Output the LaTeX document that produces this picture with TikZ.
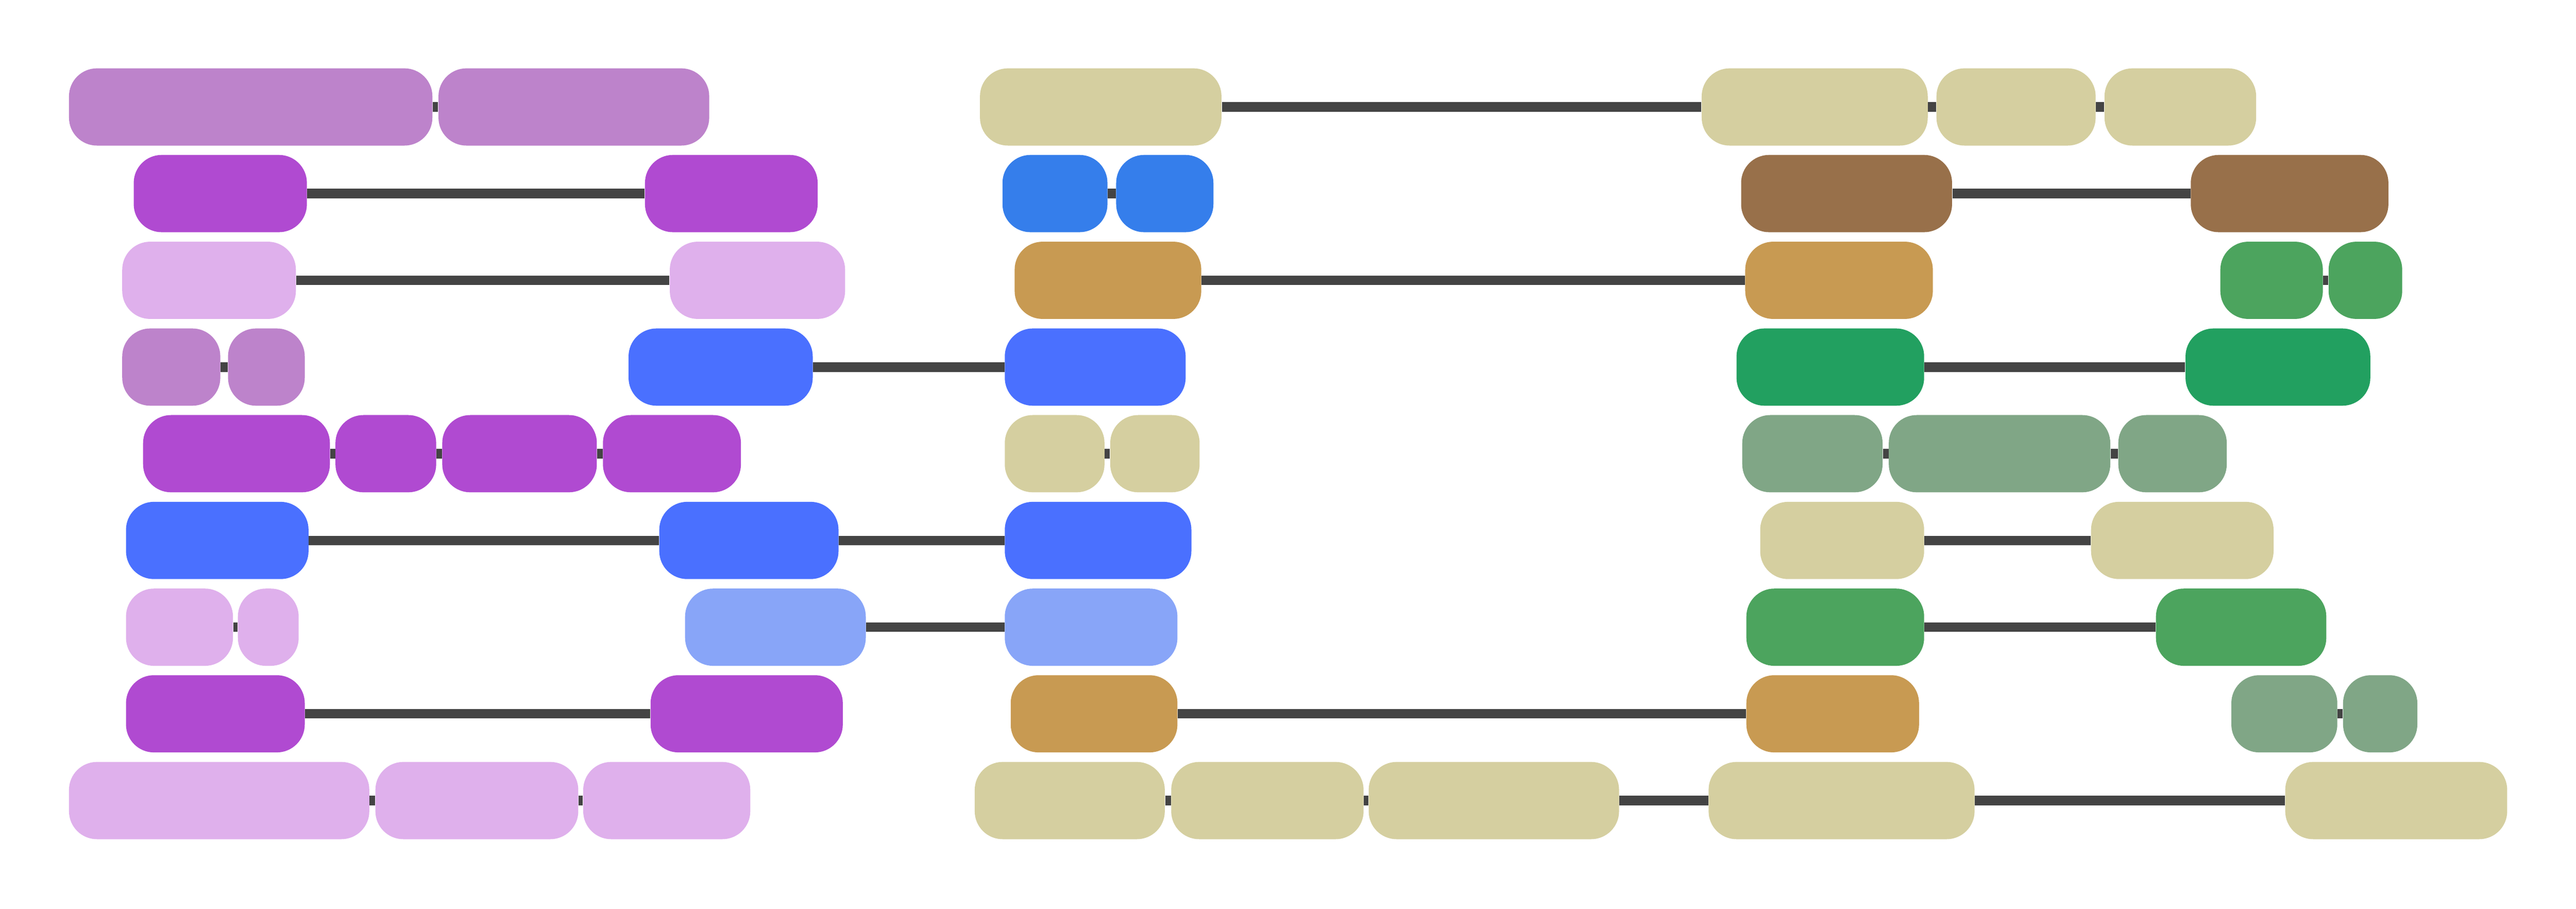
\documentclass[tikz,border=0pt]{standalone}
\usepackage{tikz}

\definecolor{lilac}{HTML}{BD83CB}
\definecolor{violet}{HTML}{B04AD1}
\definecolor{pinklilac}{HTML}{DFB0EC}
\definecolor{khaki}{HTML}{D5CFA0}
\definecolor{skyblue}{HTML}{357EEB}
\definecolor{brown}{HTML}{98704A}
\definecolor{ochre}{HTML}{C89A52}
\definecolor{leaf}{HTML}{4CA45E}
\definecolor{royal}{HTML}{4A70FF}
\definecolor{jade}{HTML}{22A060}
\definecolor{sage}{HTML}{80A686}
\definecolor{paleblue}{HTML}{88A5F8}
\definecolor{linkgray}{HTML}{444444}

\begin{document}
\begin{tikzpicture}
  [x=1pt,y=-1pt,
   every node/.style={rounded corners=17pt,inner sep=0pt,minimum height=47pt},
   link/.style={line width=5.8pt,linkgray}]
  \useasboundingbox (0,0) rectangle (1568,553);

  \node[fill=lilac,minimum width=221.2pt] (r1a) at (152.6,65.1) {};
  \node[fill=lilac,minimum width=164.8pt] (r1b) at (349.3,65.1) {};
  \node[fill=khaki,minimum width=147pt] (r1c) at (670,65.1) {};
  \node[fill=khaki,minimum width=137.6pt] (r1d) at (1104.6,65.1) {};
  \node[fill=khaki,minimum width=96.9pt] (r1e) at (1227.15,65.1) {};
  \node[fill=khaki,minimum width=92.3pt] (r1f) at (1327.15,65.1) {};

  \node[fill=violet,minimum width=105.4pt] (r2a) at (134.1,117.8) {};
  \node[fill=violet,minimum width=105.1pt] (r2b) at (445.15,117.8) {};
  \node[fill=skyblue,minimum width=63.9pt] (r2c) at (642.15,117.8) {};
  \node[fill=skyblue,minimum width=59.2pt] (r2d) at (709,117.8) {};
  \node[fill=brown,minimum width=128.4pt] (r2e) at (1124,117.8) {};
  \node[fill=brown,minimum width=120.3pt] (r2f) at (1393.65,117.8) {};

  \node[fill=pinklilac,minimum width=105.7pt] (r3a) at (127.25,170.6) {};
  \node[fill=pinklilac,minimum width=106.7pt] (r3b) at (461.05,170.6) {};
  \node[fill=ochre,minimum width=113.6pt] (r3c) at (674.4,170.6) {};
  \node[fill=ochre,minimum width=114.2pt] (r3d) at (1119.4,170.6) {};
  \node[fill=leaf,minimum width=62.4pt] (r3e) at (1382.7,170.6) {};
  \node[fill=leaf,minimum width=44.8pt] (r3f) at (1439.8,170.6) {};

  \node[fill=lilac,minimum width=59.7pt] (r4a) at (104.25,223.4) {};
  \node[fill=lilac,minimum width=46.7pt] (r4b) at (162.15,223.4) {};
  \node[fill=royal,minimum width=112.1pt] (r4c) at (438.65,223.4) {};
  \node[fill=royal,minimum width=110.1pt] (r4d) at (666.65,223.4) {};
  \node[fill=jade,minimum width=114.2pt] (r4e) at (1114.1,223.4) {};
  \node[fill=jade,minimum width=112.5pt] (r4f) at (1386.55,223.4) {};

  \node[fill=violet,minimum width=113.7pt] (r5a) at (143.95,276.1) {};
  \node[fill=violet,minimum width=61.3pt] (r5b) at (234.85,276.1) {};
  \node[fill=violet,minimum width=94.1pt] (r5c) at (316.25,276.1) {};
  \node[fill=violet,minimum width=84pt] (r5d) at (409,276.1) {};
  \node[fill=khaki,minimum width=60.7pt] (r5e) at (641.95,276.1) {};
  \node[fill=khaki,minimum width=54.4pt] (r5f) at (703,276.1) {};
  \node[fill=sage,minimum width=85.4pt] (r5g) at (1103.2,276.1) {};
  \node[fill=sage,minimum width=134.8pt] (r5h) at (1217.1,276.1) {};
  \node[fill=sage,minimum width=66pt] (r5i) at (1322.4,276.1) {};

  \node[fill=royal,minimum width=111.1pt] (r6a) at (132.25,328.9) {};
  \node[fill=royal,minimum width=109.1pt] (r6b) at (455.85,328.9) {};
  \node[fill=royal,minimum width=113.6pt] (r6c) at (668.4,328.9) {};
  \node[fill=khaki,minimum width=99.8pt] (r6d) at (1121.3,328.9) {};
  \node[fill=khaki,minimum width=111.1pt] (r6e) at (1328.35,328.9) {};

  \node[fill=pinklilac,minimum width=65.1pt] (r7a) at (109.25,381.7) {};
  \node[fill=pinklilac,minimum width=37pt] (r7b) at (163.3,381.7) {};
  \node[fill=paleblue,minimum width=110pt] (r7c) at (472,381.7) {};
  \node[fill=paleblue,minimum width=105.1pt] (r7d) at (664.15,381.7) {};
  \node[fill=leaf,minimum width=108.2pt] (r7e) at (1117.1,381.7) {};
  \node[fill=leaf,minimum width=103.7pt] (r7f) at (1364.15,381.7) {};

  \node[fill=violet,minimum width=108.8pt] (r8a) at (131.1,434.4) {};
  \node[fill=violet,minimum width=117pt] (r8b) at (454.5,434.4) {};
  \node[fill=ochre,minimum width=101.5pt] (r8c) at (665.95,434.4) {};
  \node[fill=ochre,minimum width=105.1pt] (r8d) at (1115.55,434.4) {};
  \node[fill=sage,minimum width=64.5pt] (r8e) at (1390.45,434.4) {};
  \node[fill=sage,minimum width=45.2pt] (r8f) at (1448.8,434.4) {};

  \node[fill=pinklilac,minimum width=182.8pt] (r9a) at (133.4,487.2) {};
  \node[fill=pinklilac,minimum width=123.5pt] (r9b) at (290.25,487.2) {};
  \node[fill=pinklilac,minimum width=101.7pt] (r9c) at (405.85,487.2) {};
  \node[fill=khaki,minimum width=115.7pt] (r9d) at (651.15,487.2) {};
  \node[fill=khaki,minimum width=117.1pt] (r9e) at (771.45,487.2) {};
  \node[fill=khaki,minimum width=152.4pt] (r9f) at (909.3,487.2) {};
  \node[fill=khaki,minimum width=161.9pt] (r9g) at (1120.95,487.2) {};
  \node[fill=khaki,minimum width=135.1pt] (r9h) at (1458.55,487.2) {};

  \draw[link] (r1a) -- (r1b);
  \draw[link] (r1c) -- (r1d);
  \draw[link] (r1d) -- (r1e);
  \draw[link] (r1e) -- (r1f);

  \draw[link] (r2a) -- (r2b);
  \draw[link] (r2c) -- (r2d);
  \draw[link] (r2e) -- (r2f);

  \draw[link] (r3a) -- (r3b);
  \draw[link] (r3c) -- (r3d);
  \draw[link] (r3e) -- (r3f);

  \draw[link] (r4a) -- (r4b);
  \draw[link] (r4c) -- (r4d);
  \draw[link] (r4e) -- (r4f);

  \draw[link] (r5a) -- (r5b);
  \draw[link] (r5b) -- (r5c);
  \draw[link] (r5c) -- (r5d);
  \draw[link] (r5e) -- (r5f);
  \draw[link] (r5g) -- (r5h);
  \draw[link] (r5h) -- (r5i);

  \draw[link] (r6a) -- (r6b);
  \draw[link] (r6b) -- (r6c);
  \draw[link] (r6d) -- (r6e);

  \draw[link] (r7a) -- (r7b);
  \draw[link] (r7c) -- (r7d);
  \draw[link] (r7e) -- (r7f);

  \draw[link] (r8a) -- (r8b);
  \draw[link] (r8c) -- (r8d);
  \draw[link] (r8e) -- (r8f);

  \draw[link] (r9a) -- (r9b);
  \draw[link] (r9b) -- (r9c);
  \draw[link] (r9d) -- (r9e);
  \draw[link] (r9e) -- (r9f);
  \draw[link] (r9f) -- (r9g);
  \draw[link] (r9g) -- (r9h);
\end{tikzpicture}
\end{document}
